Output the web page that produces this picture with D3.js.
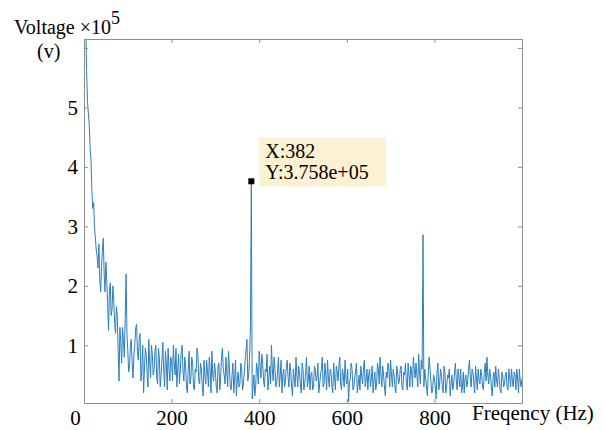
<!DOCTYPE html>
<html>
<head>
<meta charset="utf-8">
<script src="https://cdn.jsdelivr.net/npm/d3@7"></script>
<style>
  body { margin: 0; background: #fff; }
  svg { display: block; }
  text { font-family: "Liberation Serif", "DejaVu Serif", serif; fill: #000; }
</style>
</head>
<body>
<div id="graph"></div>
<script>
// spectrum in units of 1e5 V
// samples at 0, 4, 8 ... 1000 Hz
const volts = [
  8.0, 6.4, 5.1, 4.7, 4.1, 3.3, 3.0, 2.6, 2.3, 2.1,
  2.3, 2.8, 1.9, 2.1, 1.25, 2.05, 1.6, 1.75, 1.2, 1.5,
  0.4, 1.05, 1.3, 0.8, 2.2, 0.9, 0.65, 1.1, 0.45, 1.0,
  1.35, 0.75, 1.2, 0.6, 0.2, 0.95, 0.55, 1.1, 0.45, 0.85,
  0.6, 1.0, 0.35, 0.8, 0.5, 1.05, 0.3, 0.7, 0.95, 0.4,
  0.75, 1.0, 0.5, 0.3, 0.85, 0.6, 1.0, 0.4, 0.65, 0.2,
  0.9, 0.45, 0.7, 0.25, 0.55, 0.85, 0.35, 0.6, 0.15, 0.5,
  0.75, 0.3, 0.6, 0.9, 0.4, 0.55, 0.2, 0.7, 0.45, 0.95,
  0.5, 0.8, 0.3, 0.6, 0.25, 0.7, 0.45, 0.15, 0.55, 0.35,
  0.6, 0.35, 0.75, 1.1, 0.5, 1.3, 0.1, 0.5, 0.3, 0.6,
  0.9, 0.45, 0.7, 0.3, 0.55, 0.25, 0.65, 1.0, 0.4, 0.6,
  0.35, 0.8, 0.5, 0.2, 0.6, 0.4, 0.75, 0.3, 0.55, 0.15,
  0.45, 0.8, 0.3, 0.55, 0.2, 0.6, 0.35, 0.8, 0.4, 0.25,
  0.55, 0.3, 0.6, 0.45, 0.2, 0.5, 0.8, 0.35, 0.5, 0.75,
  0.3, 0.55, 0.2, 0.45, 0.65, 0.4, 0.8, 0.25, 0.5, 0.75,
  0.35, 0.05, 0.45, 0.6, 0.3, 0.55, 0.2, 0.5, 0.65, 0.35,
  0.75, 0.4, 0.25, 0.6, 0.45, 0.2, 0.55, 0.35, 0.6, 0.8,
  0.3, 0.5, 0.15, 0.45, 0.6, 0.75, 0.3, 0.5, 0.2, 0.55,
  0.4, 0.65, 0.25, 0.5, 0.35, 0.7, 0.3, 0.55, 0.8, 0.45,
  0.5, 0.85, 0.35, 0.6, 0.3, 0.45, 0.15, 0.8, 0.4, 0.25,
  0.45, 0.1, 0.7, 0.35, 0.5, 0.2, 0.55, 0.3, 0.45, 0.15,
  0.5, 0.35, 0.7, 0.25, 0.45, 0.6, 0.3, 0.2, 0.5, 0.4,
  0.75, 0.3, 0.55, 0.2, 0.45, 0.6, 0.35, 0.5, 0.25, 0.7,
  0.8, 0.35, 0.5, 0.15, 0.55, 0.65, 0.3, 0.45, 0.2, 0.5,
  0.35, 0.55, 0.25, 0.45, 0.6, 0.3, 0.5, 0.6, 0.2, 0.4,
  0.45
];
// samples at 2, 6, 10 ... 998 Hz (holds the peaks at 382 and 774 Hz)
const voltsMid = [
  7.0, 5.6, 4.9, 4.3, 3.6, 3.4, 2.8, 2.5, 2.7, 1.9,
  2.6, 2.2, 2.4, 1.7, 1.9, 1.5, 2.0, 1.35, 1.65, 0.9,
  1.3, 0.7, 1.1, 1.45, 1.2, 0.55, 1.0, 0.7, 0.85, 1.3,
  0.9, 1.1, 0.4, 1.0, 0.6, 0.85, 0.3, 0.7, 1.0, 0.5,
  0.9, 0.45, 0.95, 0.3, 0.75, 0.55, 0.9, 0.25, 0.6, 0.8,
  0.4, 0.7, 0.95, 0.6, 0.35, 0.9, 0.55, 0.8, 0.3, 0.6,
  0.35, 0.8, 0.3, 0.6, 0.95, 0.4, 0.7, 0.3, 0.75, 0.35,
  0.55, 0.8, 0.2, 0.5, 0.7, 0.3, 0.65, 0.25, 0.8, 0.6,
  0.35, 0.55, 0.9, 0.3, 0.5, 0.2, 0.75, 0.4, 0.3, 0.7,
  0.25, 0.55, 0.9, 0.4, 0.8, 3.758, 0.3, 0.15, 0.7, 0.35,
  0.65, 0.85, 0.4, 0.6, 0.85, 0.45, 0.35, 0.6, 0.8, 0.3,
  0.6, 0.3, 0.75, 0.5, 0.3, 0.65, 0.45, 0.7, 0.3, 0.6,
  0.3, 0.5, 0.65, 0.35, 0.7, 0.25, 0.55, 0.3, 0.65, 0.5,
  0.25, 0.65, 0.4, 0.7, 0.35, 0.6, 0.3, 0.7, 0.25, 0.45,
  0.6, 0.3, 0.7, 0.25, 0.55, 0.65, 0.35, 0.6, 0.3, 0.45,
  0.6, 0.35, 0.7, 0.25, 0.45, 0.7, 0.35, 0.25, 0.5, 0.6,
  0.3, 0.6, 0.5, 0.3, 0.65, 0.4, 0.25, 0.7, 0.35, 0.5,
  0.65, 0.3, 0.55, 0.7, 0.3, 0.5, 0.6, 0.3, 0.65, 0.35,
  0.6, 0.3, 0.55, 0.7, 0.25, 0.5, 0.65, 0.3, 0.6, 0.7,
  0.3, 0.55, 0.75, 2.86, 0.6, 0.3, 0.55, 0.6, 0.2, 0.5,
  0.3, 0.55, 0.25, 0.6, 0.3, 0.65, 0.2, 0.5, 0.6, 0.35,
  0.25, 0.55, 0.4, 0.6, 0.3, 0.2, 0.55, 0.45, 0.3, 0.6,
  0.45, 0.6, 0.35, 0.65, 0.25, 0.4, 0.6, 0.3, 0.55, 0.4,
  0.5, 0.6, 0.3, 0.45, 0.3, 0.4, 0.6, 0.25, 0.55, 0.3,
  0.5, 0.3, 0.6, 0.3, 0.4, 0.55, 0.25, 0.45, 0.6, 0.3
];
const freqStep = 4;

const xTicks = [0, 200, 400, 600, 800, 1000];
const xLabels = [0, 200, 400, 600, 800];
const yTicks = [1, 2, 3, 4, 5, 6];
const yLabels = [1, 2, 3, 4, 5];

const cursorFreq = 382;
const cursorVolt = 3.758;
const cursorText = ["X:382", "Y:3.758e+05"];

const width = 604;
const height = 430;

let data = volts.flatMap((v, i) => i < voltsMid.length
    ? [{ f: i * freqStep, v: v }, { f: i * freqStep + freqStep / 2, v: voltsMid[i] }]
    : [{ f: i * freqStep, v: v }]);

let x = d3.scaleLinear().domain([0, 1000]).range([84, 522]);
let y = d3.scaleLinear().domain([0.03, 6.15]).range([403, 39]);

let svg = d3.select("#graph")
    .append("svg")
        .attr("width", width)
        .attr("height", height);

svg.append("clipPath").attr("id", "plot")
    .append("rect")
        .attr("x", x(0)).attr("y", y(6.15))
        .attr("width", x(1000) - x(0))
        .attr("height", y(0.03) - y(6.15));

const line = d3.line()
    .x(d => x(d.f))
    .y(d => y(d.v));

svg.append("path")
    .datum(data)
    .attr("clip-path", "url(#plot)")
    .attr("fill", "none")
    .attr("stroke", "#2c7fc0")
    .attr("stroke-width", 1)
    .attr("stroke-linejoin", "round")
    .attr("d", line);

// box axes, ticks pointing inward
const axisColor = "#8f8f8f";
const styleAxis = g => {
    g.select(".domain").attr("stroke", axisColor);
    g.selectAll(".tick line").attr("stroke", axisColor);
    g.selectAll("text").attr("font-size", 21).attr("fill", "#000");
};

svg.append("g")
    .attr("transform", `translate(0,${y(0.03)})`)
    .call(d3.axisBottom(x).tickValues(xTicks).tickSize(-4).tickPadding(7).tickSizeOuter(0)
        .tickFormat(d => xLabels.includes(d) ? d : ""))
    .call(styleAxis)
    .call(g => g.selectAll(".tick text").filter(d => d === 0).attr("dx", -9));

svg.append("g")
    .attr("transform", `translate(0,${y(6.15)})`)
    .call(d3.axisTop(x).tickValues(xTicks).tickSize(-4).tickSizeOuter(0).tickFormat(""))
    .call(styleAxis);

svg.append("g")
    .attr("transform", `translate(${x(0)},0)`)
    .call(d3.axisLeft(y).tickValues(yTicks).tickSize(-4).tickPadding(6).tickSizeOuter(0)
        .tickFormat(d => yLabels.includes(d) ? d : ""))
    .call(styleAxis);

svg.append("g")
    .attr("transform", `translate(${x(1000)},0)`)
    .call(d3.axisRight(y).tickValues(yTicks).tickSize(-4).tickSizeOuter(0).tickFormat(""))
    .call(styleAxis);

// axis titles
let yTitle = svg.append("text").attr("x", 14).attr("y", 34).attr("font-size", 20);
yTitle.append("tspan").text("Voltage ×10");
yTitle.append("tspan").attr("dy", -10).attr("font-size", 18).text("5");
svg.append("text").attr("x", 37).attr("y", 58).attr("font-size", 20).text("(v)");

svg.append("text")
    .attr("x", 472).attr("y", 420)
    .attr("font-size", 21)
    .text("Freqency (Hz)");

// data cursor
svg.append("rect")
    .attr("x", x(cursorFreq) + 8).attr("y", y(cursorVolt) - 44)
    .attr("width", 127).attr("height", 49)
    .attr("fill", "#fcf1d3");

svg.append("rect")
    .attr("x", x(cursorFreq) - 3).attr("y", y(cursorVolt) - 3)
    .attr("width", 6).attr("height", 6)
    .attr("fill", "#000");

svg.selectAll(".cursor-text")
    .data(cursorText)
    .join("text")
        .attr("class", "cursor-text")
        .attr("x", x(cursorFreq) + 14)
        .attr("y", (d, i) => y(cursorVolt) - 23 + i * 21)
        .attr("font-size", 20)
        .text(d => d);
</script>
</body>
</html>
